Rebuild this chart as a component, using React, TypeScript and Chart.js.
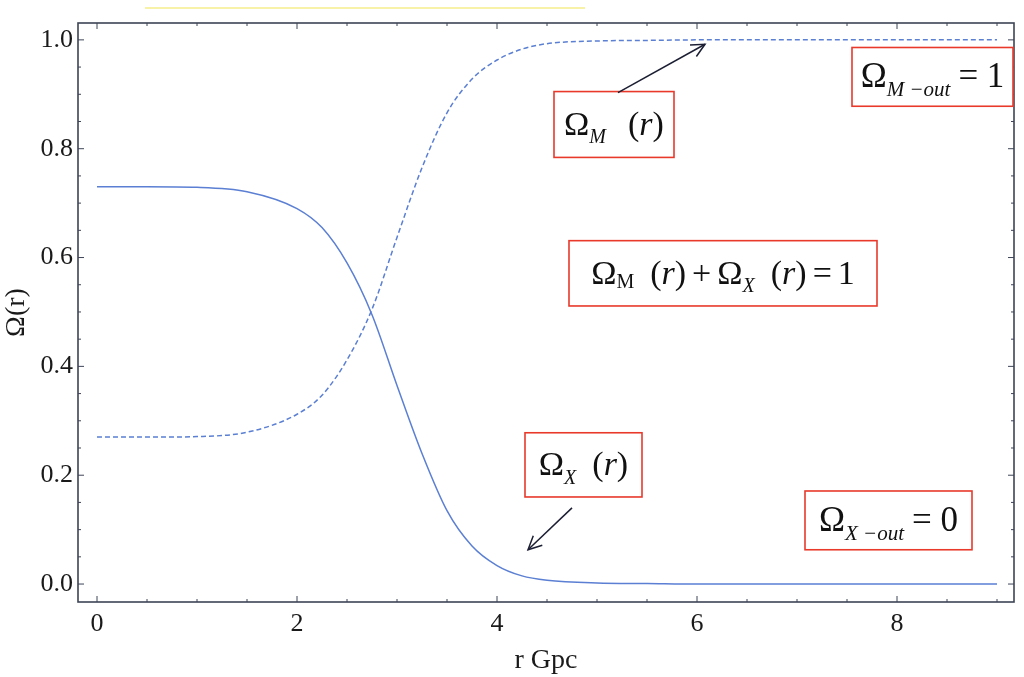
import React, { useEffect, useRef } from 'react';
import { Chart, registerables } from 'chart.js';

Chart.register(...registerables);

// ---- data ----
const rValues = [0, 0.5, 1, 1.5, 2, 2.25, 2.5, 2.75, 3, 3.25, 3.5, 3.75, 4, 4.25, 4.5, 5, 5.5, 6, 7, 8, 9];
const omegaX = [0.730, 0.730, 0.729, 0.721, 0.690, 0.655, 0.590, 0.495, 0.365, 0.240, 0.135, 0.070, 0.034, 0.015, 0.007, 0.002, 0.001, 0.0, 0.0, 0.0, 0.0];
const omegaM = [0.270, 0.270, 0.271, 0.279, 0.312, 0.347, 0.412, 0.505, 0.637, 0.765, 0.866, 0.928, 0.963, 0.983, 0.993, 0.998, 0.999, 1.0, 1.0, 1.0, 1.0];

const xMajorTicks = [0, 2, 4, 6, 8];
const xMinorTicks = [0, 0.5, 1, 1.5, 2, 2.5, 3, 3.5, 4, 4.5, 5, 5.5, 6, 6.5, 7, 7.5, 8, 8.5, 9];
const yMajorTicks = [0, 0.2, 0.4, 0.6, 0.8, 1.0];
const yMinorTicks = [0, 0.05, 0.1, 0.15, 0.2, 0.25, 0.3, 0.35, 0.4, 0.45, 0.5, 0.55, 0.6, 0.65, 0.7, 0.75, 0.8, 0.85, 0.9, 0.95, 1.0];

const xAxisTitle = 'r Gpc';
const yAxisTitle = 'Ω(r)';

type Seg = { t: string; it?: boolean; sub?: boolean; up?: boolean; gap?: number };
type Note = { x1: number; x2: number; y1: number; y2: number; size: number; segs: Seg[] };

const notes: Note[] = [
  { x1: 7.55, x2: 9.16, y1: 0.878, y2: 0.986, size: 35,
    segs: [{ t: 'Ω' }, { t: 'M −out', it: true, sub: true }, { gap: 8, t: '' }, { t: '= 1' }] },
  { x1: 4.57, x2: 5.77, y1: 0.784, y2: 0.905, size: 34,
    segs: [{ t: 'Ω' }, { t: 'M', it: true, sub: true }, { gap: 22, t: '' }, { t: '(' }, { t: 'r', it: true }, { t: ')' }] },
  { x1: 4.72, x2: 7.80, y1: 0.511, y2: 0.631, size: 34,
    segs: [
      { t: 'Ω' }, { t: 'M', sub: true, up: true }, { gap: 16, t: '' }, { t: '(' }, { t: 'r', it: true }, { t: ')' },
      { gap: 6, t: '' }, { t: '+' }, { gap: 6, t: '' },
      { t: 'Ω' }, { t: 'X', it: true, sub: true }, { gap: 16, t: '' }, { t: '(' }, { t: 'r', it: true }, { t: ')' },
      { gap: 6, t: '' }, { t: '=' }, { gap: 6, t: '' }, { t: '1' },
    ] },
  { x1: 4.28, x2: 5.45, y1: 0.160, y2: 0.278, size: 34,
    segs: [{ t: 'Ω' }, { t: 'X', it: true, sub: true }, { gap: 16, t: '' }, { t: '(' }, { t: 'r', it: true }, { t: ')' }] },
  { x1: 7.08, x2: 8.75, y1: 0.063, y2: 0.171, size: 35,
    segs: [{ t: 'Ω' }, { t: 'X −out', it: true, sub: true }, { gap: 8, t: '' }, { t: '= 0' }] },
];

const arrows = [
  { fx: 5.21, fy: 0.903, tx: 6.08, ty: 0.992 },
  { fx: 4.75, fy: 0.140, tx: 4.31, ty: 0.063 },
];

const LINE = '#5b7fd3';
const FRAME = '#3d4456';
const SERIF = '"Liberation Serif", "Times New Roman", serif';

const framePlugin = {
  id: 'frameTicks',
  afterDatasetsDraw(chart: any) {
    const { ctx, chartArea: a, scales } = chart;
    const x = scales.x, y = scales.y;
    ctx.save();
    ctx.strokeStyle = FRAME;
    ctx.lineWidth = 1;
    const tick = (px: number, py: number, dx: number, dy: number) => {
      ctx.beginPath();
      ctx.moveTo(px, py);
      ctx.lineTo(px + dx, py + dy);
      ctx.stroke();
    };
    xMinorTicks.forEach((v) => {
      const len = xMajorTicks.includes(v) ? 6 : 3;
      const px = x.getPixelForValue(v);
      tick(px, a.bottom, 0, -len);
      tick(px, a.top, 0, len);
    });
    yMinorTicks.forEach((v) => {
      const len = yMajorTicks.some((m) => Math.abs(m - v) < 1e-9) ? 6 : 3;
      const py = y.getPixelForValue(v);
      tick(a.left, py, len, 0);
      tick(a.right, py, -len, 0);
    });
    ctx.lineWidth = 1.6;
    ctx.strokeRect(a.left, a.top, a.right - a.left, a.bottom - a.top);
    ctx.restore();
  },
};

const notesPlugin = {
  id: 'notes',
  afterDraw(chart: any) {
    const { ctx, scales } = chart;
    const x = scales.x, y = scales.y;
    ctx.save();
    // faint yellow stroke above the plot
    ctx.strokeStyle = '#f6ee8c';
    ctx.lineWidth = 1.5;
    ctx.beginPath();
    ctx.moveTo(145, 8);
    ctx.lineTo(585, 8);
    ctx.stroke();

    notes.forEach((n) => {
      const L = x.getPixelForValue(n.x1), R = x.getPixelForValue(n.x2);
      const T = y.getPixelForValue(n.y2), B = y.getPixelForValue(n.y1);
      ctx.fillStyle = '#ffffff';
      ctx.fillRect(L, T, R - L, B - T);
      ctx.strokeStyle = '#e8392b';
      ctx.lineWidth = 1.6;
      ctx.strokeRect(L, T, R - L, B - T);
      const main = n.size, subSize = Math.round(n.size * 0.6);
      const fontOf = (s: Seg) =>
        `${s.it ? 'italic ' : ''}${s.sub ? subSize : main}px ${SERIF}`;
      let total = 0;
      n.segs.forEach((s) => {
        if (s.gap) total += s.gap;
        if (s.t) { ctx.font = fontOf(s); total += ctx.measureText(s.t).width; }
      });
      let cx = (L + R) / 2 - total / 2;
      const base = (T + B) / 2 + main * 0.3;
      ctx.fillStyle = '#111111';
      ctx.textBaseline = 'alphabetic';
      ctx.textAlign = 'left';
      n.segs.forEach((s) => {
        if (s.gap) cx += s.gap;
        if (!s.t) return;
        ctx.font = fontOf(s);
        const yy = s.sub ? base + (s.up ? main * 0.12 : main * 0.25) : base;
        ctx.fillText(s.t, cx, yy);
        cx += ctx.measureText(s.t).width;
      });
    });

    ctx.strokeStyle = '#1c1f33';
    ctx.lineWidth = 1.5;
    arrows.forEach((ar) => {
      const fx = x.getPixelForValue(ar.fx), fy = y.getPixelForValue(ar.fy);
      const tx = x.getPixelForValue(ar.tx), ty = y.getPixelForValue(ar.ty);
      ctx.beginPath();
      ctx.moveTo(fx, fy);
      ctx.lineTo(tx, ty);
      ctx.stroke();
      const ang = Math.atan2(ty - fy, tx - fx);
      const hl = 15, spread = 0.45;
      ctx.beginPath();
      ctx.moveTo(tx - hl * Math.cos(ang - spread), ty - hl * Math.sin(ang - spread));
      ctx.lineTo(tx, ty);
      ctx.lineTo(tx - hl * Math.cos(ang + spread), ty - hl * Math.sin(ang + spread));
      ctx.stroke();
    });
    ctx.restore();
  },
};

export default function App() {
  const ref = useRef<HTMLCanvasElement | null>(null);
  useEffect(() => {
    document.body.style.margin = '0';
    const canvas = ref.current;
    if (!canvas) return;
    const chart = new Chart(canvas, {
      type: 'line',
      data: {
        datasets: [
          {
            label: 'ΩX(r)',
            data: rValues.map((r, i) => ({ x: r, y: omegaX[i] })),
            borderColor: LINE,
            borderWidth: 1.5,
            pointRadius: 0,
            cubicInterpolationMode: 'monotone',
          },
          {
            label: 'ΩM(r)',
            data: rValues.map((r, i) => ({ x: r, y: omegaM[i] })),
            borderColor: LINE,
            borderWidth: 1.5,
            borderDash: [5, 3],
            pointRadius: 0,
            cubicInterpolationMode: 'monotone',
          },
        ],
      },
      options: {
        animation: false,
        responsive: false,
        devicePixelRatio: 1,
        layout: { padding: { top: 23, right: 10, left: 0, bottom: 0 } },
        plugins: { legend: { display: false }, tooltip: { enabled: false } },
        scales: {
          x: {
            type: 'linear',
            min: -0.19,
            max: 9.17,
            afterFit: (s: any) => { s.height = 75; },
            afterBuildTicks: (s: any) => { s.ticks = xMajorTicks.map((v) => ({ value: v })); },
            grid: { display: false, drawTicks: false },
            border: { display: false },
            ticks: {
              padding: 7,
              color: '#1a1a1a',
              font: { family: SERIF, size: 26 },
              callback: (v: any) => String(v),
            },
            title: {
              display: true,
              text: xAxisTitle,
              color: '#1a1a1a',
              font: { family: SERIF, size: 28 },
              padding: { top: 0, bottom: 0 },
            },
          },
          y: {
            type: 'linear',
            min: -0.033,
            max: 1.031,
            afterFit: (s: any) => { s.width = 78; },
            afterBuildTicks: (s: any) => { s.ticks = yMajorTicks.map((v) => ({ value: v })); },
            grid: { display: false, drawTicks: false },
            border: { display: false },
            ticks: {
              padding: 5,
              color: '#1a1a1a',
              font: { family: SERIF, size: 26 },
              callback: (v: any) => Number(v).toFixed(1),
            },
            title: {
              display: true,
              text: yAxisTitle,
              color: '#1a1a1a',
              font: { family: SERIF, size: 28 },
              padding: { top: 0, bottom: 0 },
            },
          },
        },
      },
      plugins: [framePlugin, notesPlugin],
    });
    return () => chart.destroy();
  }, []);
  return (
    <div style={{ position: 'absolute', left: 0, top: 0, width: 1024, height: 677, background: '#ffffff' }}>
      <canvas ref={ref} width={1024} height={677} style={{ width: 1024, height: 677, display: 'block' }} />
    </div>
  );
}
